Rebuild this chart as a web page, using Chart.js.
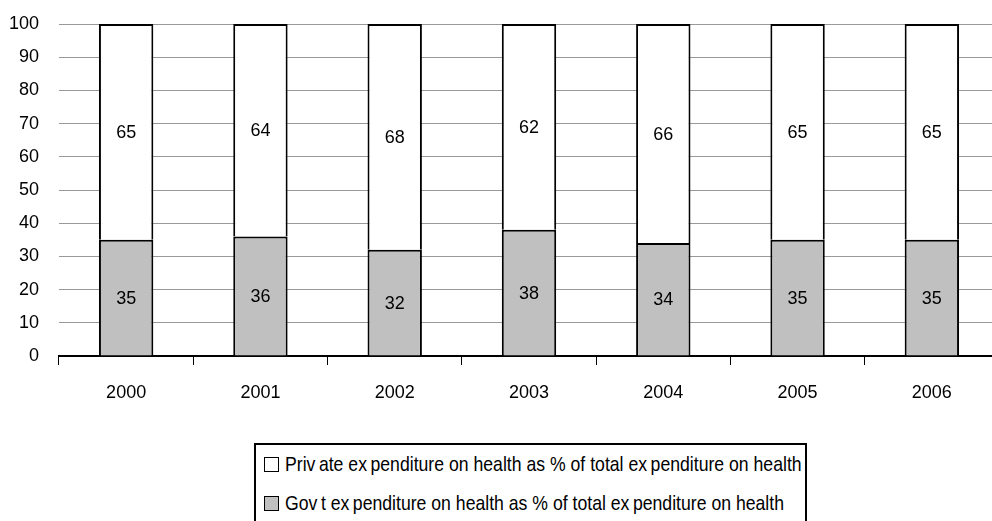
<!DOCTYPE html>
<html>
<head>
<meta charset="utf-8">
<script src="https://cdn.jsdelivr.net/npm/chart.js@4"></script>
<style>
  html, body { margin: 0; padding: 0; background: #fff; overflow: hidden; }
  body { width: 992px; height: 521px; position: relative; }
  #wrap { position: absolute; left: 0; top: 0; width: 1000px; height: 430px; }
  #legend {
    position: absolute; left: 254px; top: 443px; width: 549px; height: 100px;
    border: 2px solid #000; font-family: "Liberation Sans", Arial, sans-serif;
    font-size: 21px; color: #000;
  }
  .row { position: absolute; left: 8px; height: 16px; white-space: nowrap; }
  .sw { position: absolute; left: 0; top: 0; width: 13px; height: 13px; border: 1.5px solid #000; }
  .txt { position: absolute; left: 21px; top: -4px; line-height: 22px; transform: scaleX(0.84); transform-origin: 0 50%; }
</style>
</head>
<body>
<div id="wrap"><canvas id="chart"></canvas></div>
<div id="legend">
  <div class="row" style="top:12px"><span class="sw" style="background:#fff"></span><span class="txt" id="lg0"></span></div>
  <div class="row" style="top:51px"><span class="sw" style="background:#c0c0c0"></span><span class="txt" id="lg1"></span></div>
</div>
<script>
const years = ['2000', '2001', '2002', '2003', '2004', '2005', '2006'];
const govShare = [35, 36, 32, 38, 34, 35, 35];
const privateShare = [65, 64, 68, 62, 66, 65, 65];
const seriesNames = [
  'Priv\u2009ate ex\u2009penditure on health as % of total ex\u2009penditure on health',
  'Gov\u2009t ex\u2009penditure on health as % of total ex\u2009penditure on health'
];

const FONT = { family: '"Liberation Sans", Arial, sans-serif', size: 18 };

document.getElementById('lg0').textContent = seriesNames[0];
document.getElementById('lg1').textContent = seriesNames[1];

// write the value in the middle of every stacked segment
const segmentLabels = {
  id: 'segmentLabels',
  afterDatasetsDraw(chart) {
    const ctx = chart.ctx;
    ctx.save();
    ctx.font = FONT.size + 'px ' + FONT.family;
    ctx.fillStyle = '#000';
    ctx.textAlign = 'center';
    ctx.textBaseline = 'middle';
    chart.data.datasets.forEach((ds, i) => {
      chart.getDatasetMeta(i).data.forEach((bar, j) => {
        const p = bar.getProps(['x', 'y', 'base'], true);
        ctx.fillText(String(ds.data[j]), p.x, (p.y + p.base) / 2 + 1);
      });
    });
    ctx.restore();
  }
};

new Chart(document.getElementById('chart'), {
  type: 'bar',
  data: {
    labels: years,
    datasets: [
      {
        label: seriesNames[1],
        data: govShare,
        backgroundColor: '#c0c0c0',
        borderColor: '#000',
        borderWidth: 2
      },
      {
        label: seriesNames[0],
        data: privateShare,
        backgroundColor: '#fff',
        borderColor: '#000',
        borderWidth: 2
      }
    ]
  },
  options: {
    responsive: true,
    maintainAspectRatio: false,
    animation: false,
    layout: { padding: { top: 24, right: 1, left: 0, bottom: 0 } },
    datasets: { bar: { categoryPercentage: 1, barPercentage: 0.405 } },
    plugins: { legend: { display: false }, tooltip: { enabled: false } },
    scales: {
      x: {
        stacked: true,
        offset: true,
        grid: { offset: true, drawOnChartArea: false, tickLength: 9, color: '#000', lineWidth: 1 },
        border: { color: '#000', width: 2 },
        ticks: { color: '#000', font: FONT, padding: 17 },
        afterFit: (s) => { s.height = 74; }
      },
      y: {
        stacked: true,
        min: 0,
        max: 100,
        grid: { drawTicks: false, color: '#999', lineWidth: 1 },
        border: { display: false },
        ticks: { stepSize: 10, color: '#000', font: FONT, padding: 20 },
        afterFit: (s) => { s.width = 59; s.paddingTop = 0; s.paddingBottom = 0; }
      }
    }
  },
  plugins: [segmentLabels]
});
</script>
</body>
</html>
